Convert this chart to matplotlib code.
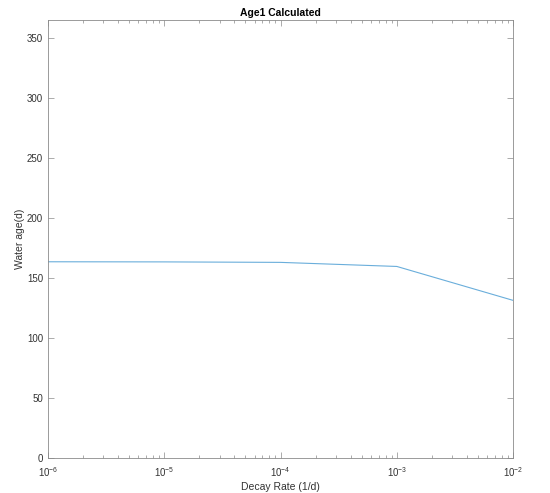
import numpy as np
import matplotlib.pyplot as plt
from matplotlib.ticker import LogLocator, LogFormatterMathtext

plt.rcParams['font.family'] = ['Liberation Sans', 'DejaVu Sans']
plt.rcParams['axes.unicode_minus'] = False

# decay rate (1/d) vs calculated water age (d)
decay_rate = [1e-6, 1e-5, 1e-4, 1e-3, 1e-2]
water_age = [163.6, 163.5, 163.1, 159.7, 131.4]

fig = plt.figure(figsize=(5.5, 4.93), dpi=100)
ax = fig.add_axes([0.087, 0.071, 0.846, 0.888])

ax.plot(decay_rate, water_age, color='#6aaedb', lw=0.8)

ax.set_xscale('log')
ax.set_xlim(1e-6, 1e-2)
ax.set_ylim(0, 365)
ax.set_yticks(np.arange(0, 351, 50))
ax.xaxis.set_major_locator(LogLocator(base=10, numticks=10))
ax.xaxis.set_minor_locator(LogLocator(base=10, subs=np.arange(2, 10), numticks=50))
ax.xaxis.set_major_formatter(LogFormatterMathtext())

grey = '#8a8a8a'
for s in ax.spines.values():
    s.set_color(grey)
    s.set_linewidth(0.6)
ax.tick_params(which='both', direction='in', top=True, right=True,
               color=grey, labelsize=7, labelcolor='#333333', width=0.5)
ax.tick_params(which='major', length=4)
ax.tick_params(which='minor', length=2)
ax.tick_params(axis='x', pad=5)

ax.set_title('Age1 Calculated', fontsize=7.5, fontweight='bold', pad=3)
ax.set_xlabel('Decay Rate (1/d)', fontsize=7.5, color='#333333', labelpad=2)
ax.set_ylabel('Water age(d)', fontsize=7.5, color='#333333')
ax.yaxis.set_label_coords(-0.05, 0.5)

fig.savefig('out.png', dpi=100)
